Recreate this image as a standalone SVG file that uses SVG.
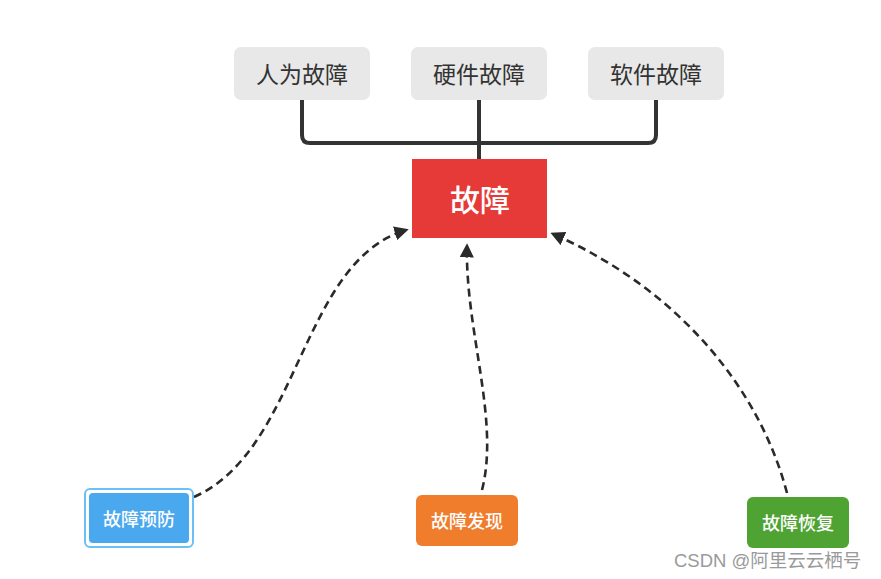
<svg xmlns="http://www.w3.org/2000/svg" width="881" height="579" viewBox="0 0 881 579">
<style>
.t{font-family:"Noto Sans CJK SC","Noto Sans",sans-serif;text-anchor:middle;dominant-baseline:central;font-weight:normal}
.gray{fill:#e8e8e8}
.gt{font-size:23px;fill:#333}
.bt{font-size:18px;fill:#fff;font-weight:500}
.rt{font-size:30px;fill:#fff;font-weight:500}
.tree{fill:none;stroke:#333;stroke-width:4;stroke-linejoin:round}
.dash{fill:none;stroke:#2a2a2a;stroke-width:2.6;stroke-dasharray:8 5}
</style>
<defs>
<marker id="ah" viewBox="0 0 10 10" refX="8" refY="5" markerWidth="5.5" markerHeight="5.5" orient="auto" markerUnits="strokeWidth">
<path d="M0,0 L10,5 L0,10 z" fill="#2a2a2a"/>
</marker>
</defs>
<rect width="881" height="579" fill="#fff"/>
<g id="connectors">
<path class="tree" d="M302,100 V135 Q302,143 310,143 H648 Q656,143 656,135 V100"/>
<path class="tree" d="M479,100 V159"/>
<path class="dash" d="M194,497 C300,450 300,262 406,230" marker-end="url(#ah)"/>
<path class="dash" d="M482,490 C500,420 465,330 467,246" marker-end="url(#ah)"/>
<path class="dash" d="M787,493 C760,390 680,290 553,234" marker-end="url(#ah)"/>
</g>
<g id="n-human">
<rect class="gray" x="234" y="47" width="136" height="53" rx="7"/>
<text class="t gt" x="302" y="73">人为故障</text>
</g>
<g id="n-hardware">
<rect class="gray" x="411" y="47" width="136" height="53" rx="7"/>
<text class="t gt" x="479" y="73">硬件故障</text>
</g>
<g id="n-software">
<rect class="gray" x="588" y="47" width="136" height="53" rx="7"/>
<text class="t gt" x="656" y="73">软件故障</text>
</g>
<g id="n-fault">
<rect x="412" y="159" width="135" height="79" fill="#e53a37"/>
<text class="t rt" x="480" y="198">故障</text>
</g>
<g id="n-prevent">
<rect x="85" y="489" width="108" height="58" rx="5" fill="#fff" stroke="#6cc0f5" stroke-width="2"/>
<rect x="89" y="493" width="100" height="50" rx="4" fill="#4aa8ee"/>
<text class="t bt" x="139" y="518">故障预防</text>
</g>
<g id="n-detect">
<rect x="416" y="495" width="102" height="51" rx="6" fill="#ef7d2c"/>
<text class="t bt" x="467" y="520">故障发现</text>
</g>
<g id="n-recover">
<rect x="747" y="497" width="102" height="51" rx="6" fill="#4fa333"/>
<text class="t bt" x="798" y="522">故障恢复</text>
</g>
<text x="674" y="567" font-family="Liberation Sans,'Noto Sans CJK SC',sans-serif" font-size="18.5" fill="#9a9a9a">CSDN @阿里云云栖号</text>
</svg>
